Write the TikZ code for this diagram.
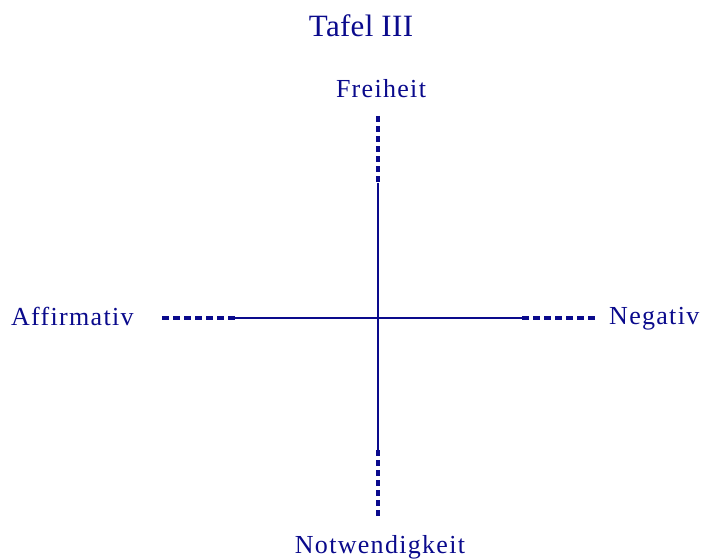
\documentclass[tikz,border=0pt]{standalone}
\usepackage{fontspec}
\setmainfont{Liberation Serif}
\definecolor{ink}{RGB}{10,10,140}
\begin{document}
\begin{tikzpicture}[x=1pt,y=-1pt,
  lbl/.style={inner sep=0pt,text=ink,font=\fontsize{26}{30}\selectfont\addfontfeature{LetterSpace=5}},
  ttl/.style={inner sep=0pt,text=ink,font=\fontsize{31}{35}\selectfont\addfontfeature{LetterSpace=1}},
  solidline/.style={draw=ink,line width=1.1pt},
  vdash/.style={draw=ink,line width=3.4pt,dash pattern=on 6pt off 4pt},
  hdash/.style={draw=ink,line width=3.4pt,dash pattern=on 7pt off 4pt}]
\useasboundingbox (0,0) rectangle (701,559);
\node[ttl,anchor=base] (title) at (361,37) {Tafel III};
\node[lbl,anchor=base] (frei) at (381,98) {Freiheit};
\node[lbl,anchor=base] (notw) at (380,553) {Notwendigkeit};
\node[lbl,anchor=base west] (aff) at (11,325) {Affirmativ};
\node[lbl,anchor=base west] (neg) at (609,324) {Negativ};
\coordinate (t1) at (378,116);
\coordinate (t2) at (378,183);
\coordinate (b2) at (378,450);
\coordinate (b1) at (378,516);
\coordinate (l1) at (162,318);
\coordinate (l2) at (235,318);
\coordinate (r2) at (522,318);
\coordinate (r1) at (595,318);
\draw[vdash] (t1) -- (t2);
\draw[solidline] (t2) -- (b2);
\draw[vdash] (b2) -- (b1);
\draw[hdash] (l1) -- (l2);
\draw[solidline] (l2) -- (r2);
\draw[hdash] (r2) -- (r1);
\end{tikzpicture}
\end{document}
